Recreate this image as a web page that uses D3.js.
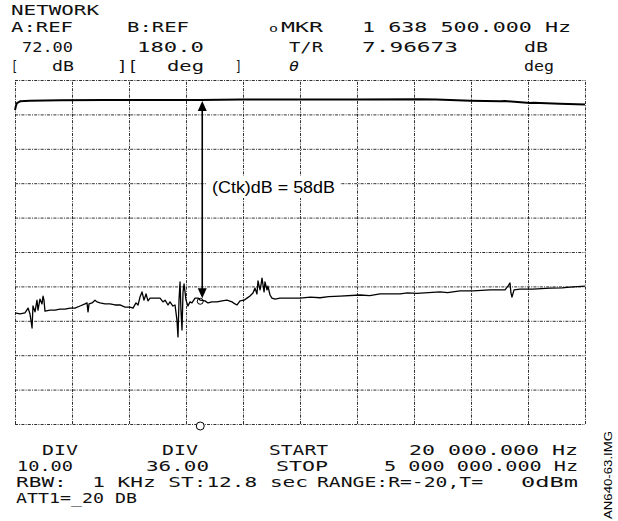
<!DOCTYPE html>
<html><head><meta charset="utf-8">
<script src="https://cdn.jsdelivr.net/npm/d3@7"></script>
<style>
html,body{margin:0;padding:0;background:#fff;}
svg{display:block;}
text{white-space:pre;}
</style></head><body>
<svg id="c" width="618" height="521"></svg>
<script>
// ---------------- DATA ----------------
// Sweep settings (MHz) and amplitude reference (dB)
const startFreqMHz = 0.02;
const stopFreqMHz = 5.0;
const refDb = 72;
const divDb = 10;
const divisions = 10;
const markerFreqMHz = 1.6385;
const markerDb = 7.96673;

// Through (reference) trace: [frequency MHz, dB]
const topTrace = [
  [0.020, 63.3], [0.029, 64.6], [0.037, 65.3], [0.064, 65.8], [0.151, 66.0],
  [0.413, 66.1], [0.80, 66.2], [1.20, 66.2], [1.6385, 66.2], [2.00, 66.3],
  [2.51, 66.3], [3.00, 66.3], [3.56, 66.4], [3.70, 66.3], [4.00, 66.0],
  [4.26, 65.8], [4.30, 65.9], [4.52, 65.3], [4.55, 65.4], [4.78, 65.1], [5.00, 64.9]
];

// Crosstalk trace: [frequency MHz, dB]
const bottomTrace = [
  [0.020, 4.3], [0.064, 4.0], [0.107, 4.3], [0.134, 5.7], [0.151, 4.0], [0.169, -0.1],
  [0.177, 6.3], [0.195, 4.6], [0.212, 8.0], [0.221, 5.1], [0.238, 8.3], [0.256, 6.9],
  [0.265, 9.2], [0.273, 8.0], [0.282, 4.8], [0.326, 5.1], [0.369, 5.1], [0.413, 5.4],
  [0.457, 5.4], [0.501, 5.7], [0.544, 5.7], [0.588, 6.3], [0.632, 6.9], [0.649, 7.2],
  [0.658, 4.6], [0.667, 6.9], [0.693, 7.2], [0.719, 8.0], [0.736, 7.5], [0.763, 7.2],
  [0.806, 6.9], [0.850, 6.9], [0.894, 6.6], [0.937, 6.6], [0.981, 6.0], [1.025, 6.0],
  [1.051, 5.7], [1.077, 7.2], [1.095, 6.6], [1.112, 8.9], [1.130, 10.4], [1.147, 8.0],
  [1.165, 9.8], [1.182, 7.8], [1.200, 8.6], [1.243, 8.6], [1.287, 8.6], [1.313, 7.5],
  [1.331, 8.0], [1.357, 6.6], [1.374, 7.5], [1.400, 6.3], [1.418, 6.6], [1.435, 2.2],
  [1.444, -2.7], [1.453, 8.0], [1.462, 13.3], [1.470, 5.1], [1.479, -0.7], [1.488, 10.4],
  [1.497, 12.7], [1.514, 8.0], [1.531, 6.3], [1.549, 7.5], [1.566, 7.2], [1.593, 8.6],
  [1.619, 8.6], [1.6385, 8.0], [1.680, 7.8], [1.706, 7.2], [1.741, 7.5], [1.785, 7.5],
  [1.829, 7.8], [1.872, 8.0], [1.916, 7.5], [1.942, 6.9], [1.960, 6.6], [1.986, 7.8],
  [2.021, 8.0], [2.047, 8.6], [2.073, 9.2], [2.099, 10.1], [2.117, 11.5], [2.134, 9.8],
  [2.143, 13.6], [2.161, 11.0], [2.169, 12.4], [2.178, 14.4], [2.196, 10.4], [2.204, 13.3],
  [2.222, 11.0], [2.230, 12.1], [2.248, 9.5], [2.265, 8.6], [2.292, 8.3], [2.335, 8.6],
  [2.423, 8.6], [2.510, 8.6], [2.600, 8.9], [2.685, 8.7], [2.760, 9.0], [2.860, 9.2],
  [3.034, 9.5], [3.120, 9.3], [3.209, 9.8], [3.384, 9.8], [3.450, 10.1], [3.532, 10.0],
  [3.733, 10.4], [3.800, 10.2], [3.908, 10.7], [4.022, 10.7], [4.170, 11.0], [4.301, 11.0],
  [4.327, 12.1], [4.345, 13.0], [4.353, 10.1], [4.362, 8.9], [4.380, 11.0], [4.432, 11.2],
  [4.546, 11.2], [4.694, 11.5], [4.800, 11.6], [4.869, 11.8], [5.000, 12.1]
];

// Instrument annotation text
const headerRows = [
  ["NETWORK"],
  ["A:REF", "B:REF", "o", "MKR", "1 638 500.000 Hz"],
  ["72.00", "180.0", "T/R", "7.96673", "dB"],
  ["[", "dB", "][", "deg", "]", "θ", "deg"]
];
const footerRows = [
  ["DIV", "DIV", "START", "20 000.000 Hz"],
  ["10.00", "36.00", "STOP", "5 000 000.000 Hz"],
  ["RBW:  1 KHz ST:12.8 sec", "RANGE:R=-20,T=", "0dBm"],
  ["ATT1=_20 DB"]
];
const annotationLabel = "(Ctk)dB = 58dB";
const imageId = "AN640-63.IMG";

// ---------------- LAYOUT ----------------
const svg = d3.select("#c");
const plot = {left: 15, right: 585, top: 80, bottom: 424};

const x = d3.scaleLinear().domain([startFreqMHz, stopFreqMHz]).range([plot.left, plot.right]);
const y = d3.scaleLinear().domain([refDb - divDb * divisions, refDb]).range([plot.bottom, plot.top]);

const xGrid = d3.range(divisions + 1).map(i => startFreqMHz + i * (stopFreqMHz - startFreqMHz) / divisions);
const yGrid = d3.range(divisions + 1).map(i => refDb - i * divDb);

const gridStyle = g => g.attr("stroke", "#1a1a1a").attr("stroke-width", 0.9)
  .attr("stroke-dasharray", "3,1.2,1,1.2").attr("fill", "none");

// grid via axes (no labels)
const xAxis = d3.axisBottom(x).tickValues(xGrid).tickSize(-(plot.bottom - plot.top)).tickFormat("");
const yAxis = d3.axisLeft(y).tickValues(yGrid).tickSize(-(plot.right - plot.left)).tickFormat("");
const gx = svg.append("g").attr("transform", `translate(0,${plot.bottom})`).call(xAxis);
const gy = svg.append("g").attr("transform", `translate(${plot.left},0)`).call(yAxis);
[gx, gy].forEach(g => { g.select(".domain").remove(); g.selectAll("line").call(gridStyle); });

// traces
const line = d3.line().x(d => x(d[0])).y(d => y(d[1]));
svg.append("path").datum(topTrace).attr("d", line)
  .attr("fill", "none").attr("stroke", "#000").attr("stroke-width", 2).attr("stroke-linejoin", "round");
svg.append("path").datum(bottomTrace).attr("d", line)
  .attr("fill", "none").attr("stroke", "#000").attr("stroke-width", 1.3).attr("stroke-linejoin", "round");

// marker on trace and on bottom edge
const topAtMarker = topTrace.find(d => d[0] === markerFreqMHz)[1];
svg.append("circle").attr("cx", x(markerFreqMHz)).attr("cy", y(markerDb) + 1).attr("r", 3)
  .attr("fill", "none").attr("stroke", "#000").attr("stroke-width", 1);
svg.append("circle").attr("cx", x(markerFreqMHz)).attr("cy", plot.bottom + 2).attr("r", 4)
  .attr("fill", "#fff").attr("stroke", "#000").attr("stroke-width", 1);

// double-headed arrow
const ax = x(markerFreqMHz) + 2;
const yTop = y(topAtMarker) + 1, yBot = y(markerDb) - 2;
svg.append("line").attr("x1", ax).attr("x2", ax).attr("y1", yTop + 6).attr("y2", yBot - 6)
  .attr("stroke", "#000").attr("stroke-width", 1.6);
svg.append("path").attr("d", `M${ax},${yTop} L${ax - 4.5},${yTop + 10} L${ax + 4.5},${yTop + 10} Z`).attr("fill", "#000");
svg.append("path").attr("d", `M${ax},${yBot} L${ax - 4.5},${yBot - 10} L${ax + 4.5},${yBot - 10} Z`).attr("fill", "#000");

// annotation label
svg.append("rect").attr("x", 207).attr("y", 176).attr("width", 133).attr("height", 22).attr("fill", "#fff");
svg.append("text").attr("x", 212).attr("y", 193).text(annotationLabel)
  .attr("font-family", "Liberation Sans, Arial, sans-serif").attr("font-size", 17)
  .attr("textLength", 123).attr("lengthAdjust", "spacingAndGlyphs").attr("fill", "#000");

// instrument text
const mono = "DejaVu Sans Mono, monospace";
const headerBase = [15, 32, 52, 71];
const headerSpans = [
  [[12, 98]],
  [[12, 72], [128, 188], [270, 277], [282, 322], [363, 570]],
  [[23, 72], [138, 203], [290, 322], [363, 457], [525, 547]],
  [[12, 17], [53, 73], [118, 137], [168, 203], [236, 241], [290, 298], [525, 553]]
];
const footerBase = [455, 471, 487, 503];
const footerSpans = [
  [[43, 77], [163, 197], [270, 327], [410, 577]],
  [[18, 72], [147, 208], [277, 327], [385, 577]],
  [[17, 307], [318, 482], [522, 577]],
  [[17, 136]]
];
function drawRows(rows, spans, bases) {
  rows.forEach((row, r) => {
    row.forEach((s, i) => {
      const [a, b] = spans[r][i];
      const t = svg.append("text").attr("x", a - 1).attr("y", bases[r]).text(s)
        .attr("font-family", mono).attr("font-size", s === "o" ? 10 : 14)
        .attr("fill", "#111")
        .attr("textLength", b - a + 2).attr("lengthAdjust", "spacingAndGlyphs");
      if (s === "θ") t.attr("font-style", "italic");
    });
  });
}
drawRows(headerRows, headerSpans, headerBase);
drawRows(footerRows, footerSpans, footerBase);

// side id
svg.append("text").attr("transform", "translate(612,519) rotate(-90)").text(imageId)
  .attr("font-family", "Liberation Sans, Arial, sans-serif").attr("font-size", 11.5)
  .attr("textLength", 88).attr("lengthAdjust", "spacingAndGlyphs").attr("fill", "#000");
</script>
</body></html>
